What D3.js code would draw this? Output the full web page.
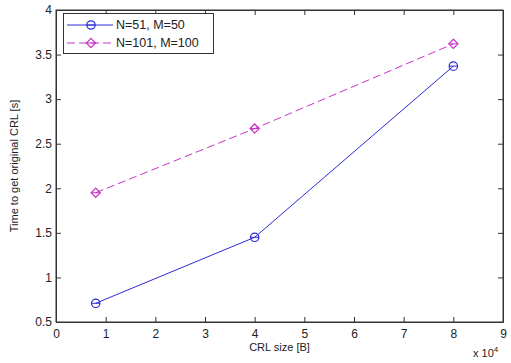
<!DOCTYPE html>
<html>
<head>
<meta charset="utf-8">
<script src="https://cdn.jsdelivr.net/npm/d3@7"></script>
<style>
  body { margin: 0; background: #fff; }
  svg { display: block; font-family: "Liberation Sans", Arial, sans-serif; }
</style>
</head>
<body>
<svg id="chart" width="511" height="363"></svg>
<script>
// values (x in units of 10^4 bytes)
var crl_size = [0.8, 4, 8];
var series_names = ['N=51, M=50', 'N=101, M=100'];
var series_a = [0.71, 1.45, 3.37];
var series_b = [1.95, 2.67, 3.62];
var x_ticks = [0, 1, 2, 3, 4, 5, 6, 7, 8, 9];
var y_ticks = [0.5, 1, 1.5, 2, 2.5, 3, 3.5, 4];

var svg = d3.select('#chart');
var plot_left = 56, plot_right = 503, plot_top = 10, plot_bottom = 322;

var xScale = d3.scaleLinear().domain([0, 9]).range([plot_left, plot_right]);
var yScale = d3.scaleLinear().domain([0.5, 4]).range([plot_bottom, plot_top]);

// frame
svg.append('rect')
	.attr('x', plot_left).attr('y', plot_top)
	.attr('width', plot_right - plot_left).attr('height', plot_bottom - plot_top)
	.attr('fill', 'white').attr('stroke', '#333').attr('stroke-width', 1);

// axes, matlab style ticks pointing inside
svg.append('g').attr('transform', 'translate(0,' + plot_bottom + ')')
	.call(d3.axisBottom(xScale).tickValues(x_ticks).tickSizeInner(-5).tickSizeOuter(0).tickPadding(7));
svg.append('g').attr('transform', 'translate(0,' + plot_top + ')')
	.call(d3.axisTop(xScale).tickValues(x_ticks).tickSizeInner(-5).tickSizeOuter(0).tickFormat(''));
svg.append('g').attr('transform', 'translate(' + plot_left + ',0)')
	.call(d3.axisLeft(yScale).tickValues(y_ticks).tickSizeInner(-5).tickSizeOuter(0).tickPadding(4)
		.tickFormat(function(d) { return d3.format('')(d); }));
svg.append('g').attr('transform', 'translate(' + plot_right + ',0)')
	.call(d3.axisRight(yScale).tickValues(y_ticks).tickSizeInner(-5).tickSizeOuter(0).tickFormat(''));

svg.selectAll('.domain').attr('stroke', '#333');
svg.selectAll('.tick line').attr('stroke', '#333');
svg.selectAll('.tick text').attr('font-size', 12).attr('fill', '#222')
	.attr('font-family', '"Liberation Sans", Arial, sans-serif');

// labels
svg.append('text').attr('x', (plot_left + plot_right) / 2).attr('y', 351)
	.attr('text-anchor', 'middle').attr('font-size', 11).attr('fill', '#222')
	.text('CRL size [B]');
svg.append('text').attr('transform', 'translate(18,' + (plot_top + plot_bottom) / 2 + ') rotate(-90)')
	.attr('text-anchor', 'middle').attr('font-size', 11).attr('fill', '#222')
	.text('Time to get original CRL [s]');
var expo = svg.append('text').attr('x', 473).attr('y', 357).attr('font-size', 11).attr('fill', '#222');
expo.append('tspan').text('x 10');
expo.append('tspan').attr('font-size', 8).attr('dy', -5).text('4');

var blue = '#2b2bd6', magenta = '#c832c8';

var line = d3.line()
	.x(function(d) { return xScale(d[0]); })
	.y(function(d) { return yScale(d[1]); });

function draw_series(values, color, dash, marker) {
	var pts = d3.zip(crl_size, values);
	svg.append('path').datum(pts)
		.attr('d', line).attr('fill', 'none')
		.attr('stroke', color).attr('stroke-width', 1)
		.attr('stroke-dasharray', dash);
	pts.forEach(function(p) {
		draw_marker(xScale(p[0]), yScale(p[1]), color, marker);
	});
}

function draw_marker(cx, cy, color, marker) {
	if (marker == 'circle') {
		svg.append('circle').attr('cx', cx).attr('cy', cy).attr('r', 4.2)
			.attr('fill', 'none').attr('stroke', color).attr('stroke-width', 1.2);
		svg.append('line').attr('x1', cx - 4.2).attr('x2', cx + 4.2).attr('y1', cy).attr('y2', cy)
			.attr('stroke', color).attr('stroke-width', 1);
	} else {
		var s = 4.6;
		svg.append('path')
			.attr('d', 'M' + cx + ',' + (cy - s) + 'L' + (cx + s) + ',' + cy + 'L' + cx + ',' + (cy + s) + 'L' + (cx - s) + ',' + cy + 'Z')
			.attr('fill', 'none').attr('stroke', color).attr('stroke-width', 1.2);
		svg.append('line').attr('x1', cx - s).attr('x2', cx + s).attr('y1', cy).attr('y2', cy)
			.attr('stroke', color).attr('stroke-width', 1);
	}
}

draw_series(series_a, blue, null, 'circle');
draw_series(series_b, magenta, '8,4', 'diamond');

// legend
svg.append('rect').attr('x', 63.5).attr('y', 13.5).attr('width', 150).attr('height', 40)
	.attr('fill', 'white').attr('stroke', '#333').attr('stroke-width', 1);
var legend_rows = [[series_names[0], blue, null, 'circle', 25], [series_names[1], magenta, '8,4', 'diamond', 43]];
legend_rows.forEach(function(r) {
	svg.append('line').attr('x1', 67).attr('x2', 113).attr('y1', r[4]).attr('y2', r[4])
		.attr('stroke', r[1]).attr('stroke-width', 1).attr('stroke-dasharray', r[2]);
	draw_marker(91, r[4], r[1], r[3]);
	svg.append('text').attr('x', 116).attr('y', r[4] + 4).attr('font-size', 12.5).attr('fill', '#222')
		.text(r[0]);
});
</script>
</body>
</html>
